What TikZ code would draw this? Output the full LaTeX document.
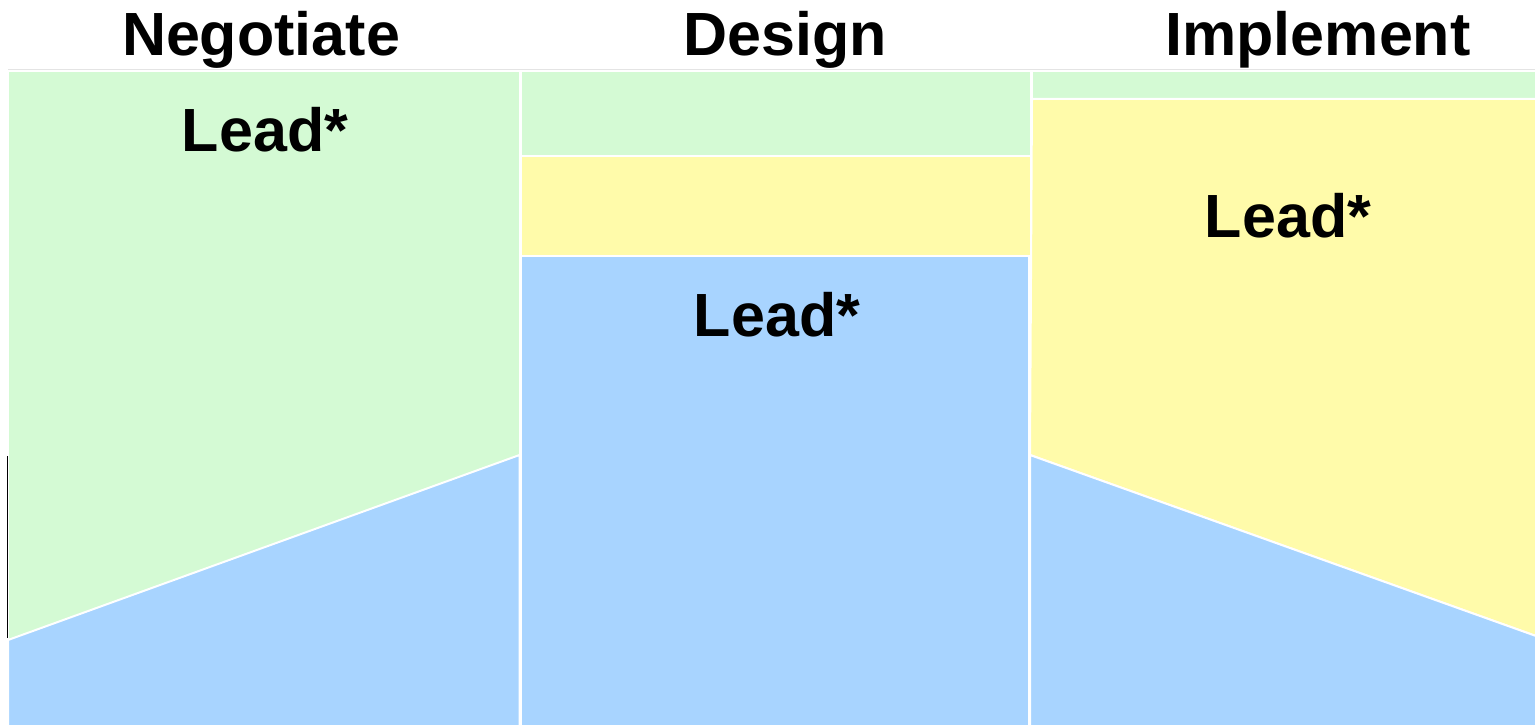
\documentclass[tikz,border=0pt]{standalone}
\usepackage{fontspec}
\setmainfont{Liberation Sans}
\definecolor{lgreen}{RGB}{212,250,212}
\definecolor{lyellow}{RGB}{255,251,170}
\definecolor{lblue}{RGB}{168,212,255}
\definecolor{lgrey}{RGB}{228,228,228}
\begin{document}
\begin{tikzpicture}[x=1pt,y=-1pt,
  region/.style={draw=white,line width=2pt,line join=miter},
  title/.style={font=\fontsize{61}{68}\selectfont\bfseries,anchor=base,inner sep=0pt},
  lead/.style={font=\fontsize{61}{68}\selectfont\bfseries,anchor=base,inner sep=0pt}]
\useasboundingbox (0,0) rectangle (1535,725);
\fill[white] (0,0) rectangle (1535,725);
% top rule
\draw[lgrey,line width=1.5pt] (8,70) -- (1535,70);
% Negotiate panel
\filldraw[region,fill=lgreen] (8,71) rectangle (519.5,726);
\filldraw[region,fill=lblue] (8,640) -- (519.5,455) -- (519.5,726) -- (8,726) -- cycle;
\draw[black,line width=1.5pt] (7.5,456) -- (7.5,638);
% Design panel
\filldraw[region,fill=lgreen] (520.5,71) rectangle (1031,156);
\filldraw[region,fill=lyellow] (520.5,156) rectangle (1031,256);
\filldraw[region,fill=lblue] (520.5,256) rectangle (1029,726);
% Implement panel
\filldraw[region,fill=lgreen] (1032,71) rectangle (1536,99);
\filldraw[region,fill=lyellow] (1032,99) -- (1536,99) -- (1536,636) -- (1030,455) -- cycle;
\filldraw[region,fill=lblue] (1030,455) -- (1536,636) -- (1536,726) -- (1030,726) -- cycle;
% titles
\node[title] (tneg) at (261,56) {Negotiate};
\node[title] (tdes) at (785,56) {Design};
\node[title] (timp) at (1318,56) {Implement};
% leads
\node[lead] (lneg) at (265,151) {Lead*};
\node[lead] (ldes) at (777,336) {Lead*};
\node[lead] (limp) at (1288,237) {Lead*};
\end{tikzpicture}
\end{document}
